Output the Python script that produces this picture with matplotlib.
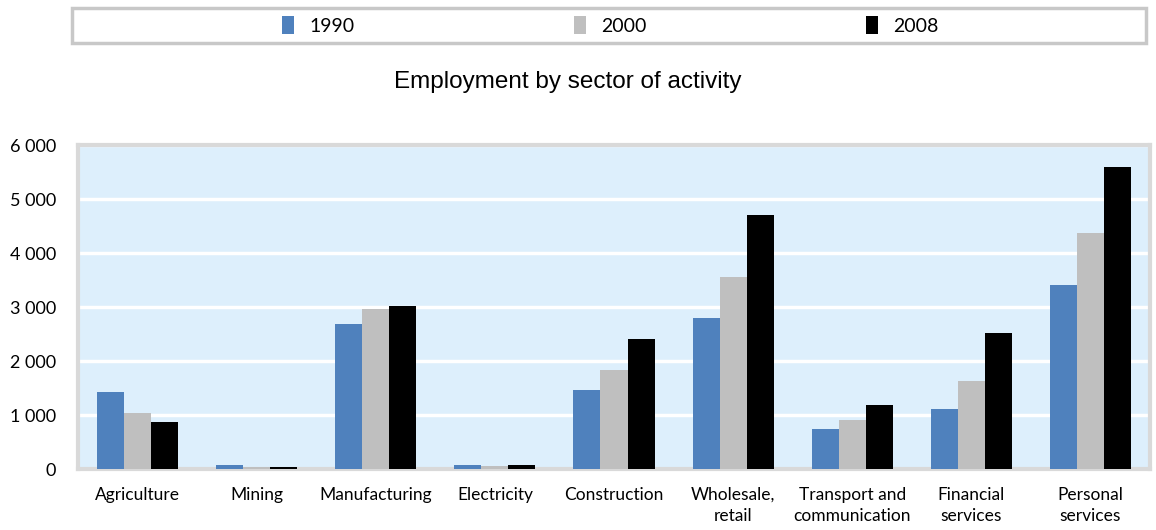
import matplotlib
matplotlib.use("Agg")
import matplotlib.pyplot as plt
import numpy as np
from matplotlib.patches import Rectangle

sectors = ["Agriculture", "Mining", "Manufacturing", "Electricity", "Construction",
           "Wholesale,\nretail", "Transport and\ncommunication", "Financial\nservices",
           "Personal\nservices"]
years = ["1990", "2000", "2008"]
emp_1990 = [1420, 70, 2690, 70, 1460, 2800, 740, 1120, 3410]
emp_2000 = [1040, 40, 2960, 60, 1830, 3550, 910, 1630, 4370]
emp_2008 = [870, 40, 3030, 70, 2410, 4710, 1180, 2520, 5600]
yticks = [0, 1000, 2000, 3000, 4000, 5000, 6000]

colors = ["#4F81BD", "#BFBFBF", "#000000"]
plt.rcParams["font.family"] = ["Lato", "DejaVu Sans"]

fig = plt.figure(figsize=(11.56, 5.30), dpi=100)
ax = fig.add_axes([0.0675, 0.115, 0.9273, 0.611])
ax.set_facecolor("#DDEFFC")

x = np.arange(len(sectors))
w = 0.227
series = [emp_1990, emp_2000, emp_2008]
handles = []
for i, (vals, c, yr) in enumerate(zip(series, colors, years)):
    h = ax.bar(x + (i - 1) * w, vals, width=w, color=c, label=yr, zorder=3)
    handles.append(h)

ax.set_xlim(-0.5, len(sectors) - 0.5)
ax.set_ylim(0, 6000)
ax.set_yticks(yticks)
ax.set_yticklabels([f"{v:,}".replace(",", " ") for v in yticks], fontsize=13)
ax.set_xticks(x)
ax.set_xticklabels(sectors, fontsize=12.5, linespacing=1.4, va="top")
ax.tick_params(axis="both", length=0)
ax.tick_params(axis="x", pad=13)
ax.tick_params(axis="y", pad=16)
ax.yaxis.grid(True, color="white", linewidth=2.5, zorder=1)
ax.set_axisbelow(True)
for s in ax.spines.values():
    s.set_color("#D9D9D9")
    s.set_linewidth(3)

fig.text(0.491, 0.845, "Employment by sector of activity", ha="center", va="center",
         fontsize=17.5, family=["Liberation Sans", "DejaVu Sans"])

# legend box across the top
box = Rectangle((72 / 1156, 1 - 43 / 530), (1146 - 72) / 1156, 35 / 530,
                transform=fig.transFigure, facecolor="white", edgecolor="#C8C8C8",
                linewidth=2.5)
fig.patches.append(box)
leg = fig.legend(handles=handles, labels=years, loc="center",
                 bbox_to_anchor=(0.528, 1 - 25.5 / 530), ncol=3, frameon=False,
                 fontsize=14, handlelength=0.6, handleheight=1.0, handletextpad=0.8,
                 columnspacing=11.3)

fig.savefig("out.png", dpi=100)
